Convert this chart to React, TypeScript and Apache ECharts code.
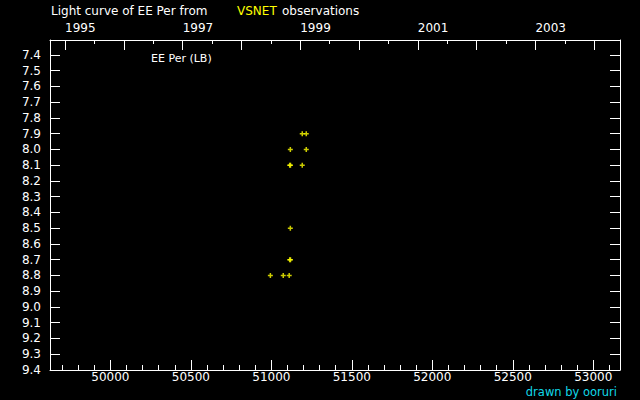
import React, { useEffect, useRef } from "react";
import * as echarts from "echarts";

// JD - 2400000 range of the plot and the epoch of 1995 Jan 1.0
const jdRange = [49625, 53166];
const jd1995 = 49718.5;

// observations: [JD - 2400000, visual magnitude]
const observations: [number, number][] = [
  [51192, 7.9],
  [51217, 7.9],
  [51118, 8.0],
  [51217, 8.0],
  [51114, 8.1],
  [51119, 8.1],
  [51192, 8.1],
  [51118, 8.5],
  [51114, 8.7],
  [51119, 8.7],
  [50994, 8.8],
  [51074, 8.8],
  [51111, 8.8],
];

const magRange = [7.305, 9.4];

const titleParts = ["Light curve of EE Per from", "VSNET", "observations"];
const starLabel = "EE Per (LB)";
const credit = "drawn by ooruri";

const toYear = (jd: number) => 1995 + (jd - jd1995) / 365.25;

const FONT = "DejaVu Sans";
const WHITE = "#ffffff";

const App: React.FC = () => {
  const chartRef = useRef<HTMLDivElement>(null);

  useEffect(() => {
    document.body.style.margin = "0";
    document.body.style.background = "#000";
    if (!chartRef.current) return;
    const chart = echarts.init(chartRef.current, undefined, { renderer: "svg" });

    const line = { show: true, onZero: false, lineStyle: { color: WHITE, width: 1 } };
    const noLine = { show: false };
    const label = { color: WHITE, fontFamily: FONT, fontSize: 12 };

    chart.setOption({
      animation: false,
      backgroundColor: "#000000",
      grid: { left: 50, right: 20, top: 40, bottom: 30 },
      xAxis: [
        {
          type: "value",
          position: "bottom",
          min: jdRange[0],
          max: jdRange[1],
          minInterval: 500,
          maxInterval: 500,
          axisLine: line,
          axisTick: { inside: true, length: 10, lineStyle: { color: WHITE } },
          axisLabel: {
            ...label,
            margin: 1,
            formatter: (v: number) => (Math.round(v) % 500 === 0 ? String(Math.round(v)) : ""),
          },
          splitLine: { show: false },
        },
        {
          type: "value",
          position: "bottom",
          min: jdRange[0],
          max: jdRange[1],
          minInterval: 100,
          maxInterval: 100,
          axisLine: noLine,
          axisTick: { inside: true, length: 5, lineStyle: { color: WHITE } },
          axisLabel: { show: false },
          splitLine: { show: false },
        },
        {
          type: "value",
          position: "top",
          min: toYear(jdRange[0]),
          max: toYear(jdRange[1]),
          minInterval: 1,
          maxInterval: 1,
          axisLine: line,
          axisTick: { inside: true, length: 10, lineStyle: { color: WHITE } },
          axisLabel: {
            ...label,
            margin: 6,
            align: "left",
            formatter: (v: number) => {
              const y = Math.round(v);
              return Math.abs(v - y) < 1e-6 && y % 2 === 1 ? String(y) : "";
            },
          },
          splitLine: { show: false },
        },
        {
          type: "value",
          position: "top",
          min: toYear(jdRange[0]),
          max: toYear(jdRange[1]),
          minInterval: 0.5,
          maxInterval: 0.5,
          axisLine: noLine,
          axisTick: { inside: true, length: 4, lineStyle: { color: WHITE } },
          axisLabel: { show: false },
          splitLine: { show: false },
        },
      ],
      yAxis: [
        {
          type: "value",
          position: "left",
          inverse: true,
          min: magRange[0],
          max: magRange[1],
          minInterval: 0.1,
          maxInterval: 0.1,
          axisLine: line,
          axisTick: { inside: true, length: 10, lineStyle: { color: WHITE } },
          axisLabel: {
            ...label,
            margin: 9,
            showMinLabel: false,
            formatter: (v: number) => v.toFixed(1),
          },
          splitLine: { show: false },
        },
        {
          type: "value",
          position: "right",
          inverse: true,
          min: magRange[0],
          max: magRange[1],
          minInterval: 0.1,
          maxInterval: 0.1,
          axisLine: line,
          axisTick: { inside: true, length: 10, lineStyle: { color: WHITE } },
          axisLabel: { show: false },
          splitLine: { show: false },
        },
      ],
      series: [
        {
          type: "scatter",
          xAxisIndex: 0,
          yAxisIndex: 0,
          data: observations,
          symbol: "path://M1.75,0L3.25,0L3.25,5L1.75,5ZM0,1.75L5,1.75L5,3.25L0,3.25Z",
          symbolSize: 5,
          itemStyle: { color: "#ffff00" },
        },
      ],
      graphic: [
        {
          type: "text",
          left: 51,
          top: 5,
          style: { text: titleParts[0], fill: WHITE, font: `12px "${FONT}"` },
        },
        {
          type: "text",
          left: 237,
          top: 5,
          style: { text: titleParts[1], fill: "#ffff00", font: `12px "${FONT}"` },
        },
        {
          type: "text",
          left: 282,
          top: 5,
          style: { text: titleParts[2], fill: WHITE, font: `12px "${FONT}"` },
        },
        {
          type: "text",
          left: 151,
          top: 53,
          style: { text: starLabel, fill: WHITE, font: `11px "${FONT}"` },
        },
        {
          type: "text",
          right: 23,
          top: 386,
          style: { text: credit, fill: "#10d8e8", font: `11.5px "${FONT}"` },
        },
      ],
    });

    return () => {
      chart.dispose();
    };
  }, []);

  return <div ref={chartRef} style={{ width: 640, height: 400 }} />;
};

export default App;
